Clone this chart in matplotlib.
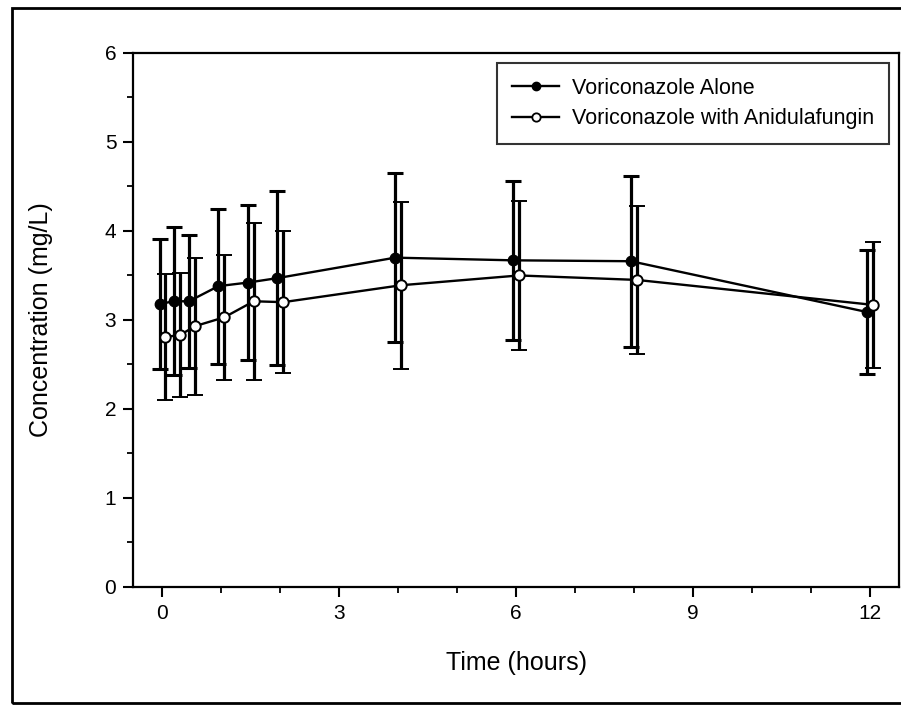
import numpy as np
import matplotlib.pyplot as plt
from matplotlib.patches import Rectangle
from matplotlib.lines import Line2D
from matplotlib.ticker import MultipleLocator

plt.rcParams['font.family'] = ['Liberation Sans', 'DejaVu Sans']

# sampling times (hours)
tiempo = [0, 0.25, 0.5, 1, 1.5, 2, 4, 6, 8, 12]

# voriconazole alone: mean and SD (mg/L)
solo_media = [3.18, 3.21, 3.21, 3.38, 3.42, 3.47, 3.70, 3.67, 3.66, 3.09]
solo_sd = [0.73, 0.83, 0.75, 0.87, 0.87, 0.98, 0.95, 0.89, 0.96, 0.70]

# voriconazole with anidulafungin: mean and SD (mg/L)
combi_media = [2.81, 2.83, 2.93, 3.03, 3.21, 3.20, 3.39, 3.50, 3.45, 3.17]
combi_sd = [0.71, 0.70, 0.77, 0.70, 0.88, 0.80, 0.94, 0.84, 0.83, 0.71]

etiquetas = ['Voriconazole Alone', 'Voriconazole with Anidulafungin']

# small horizontal shift so the two series do not hide each other
desplaz = 0.05


def show():
    fig = plt.figure(figsize=(9.01, 7.06), dpi=100)
    ax = fig.add_axes([0.1476, 0.1686, 0.8502, 0.7564])

    t = np.array(tiempo)
    ax.errorbar(t - desplaz, solo_media, yerr=solo_sd, color='black',
                marker='o', markersize=7.5, markerfacecolor='black',
                markeredgecolor='black', lw=1.7, elinewidth=2.3,
                capsize=6, capthick=2.2, zorder=3)
    ax.errorbar(t + desplaz, combi_media, yerr=combi_sd, color='black',
                marker='o', markersize=7.5, markerfacecolor='white',
                markeredgecolor='black', markeredgewidth=1.4, lw=1.7,
                elinewidth=2.3, capsize=6, capthick=2.2, zorder=3)

    ax.set_xlim(-0.5, 12.5)
    ax.set_ylim(0, 6)
    ax.xaxis.set_major_locator(MultipleLocator(3))
    ax.xaxis.set_minor_locator(MultipleLocator(1))
    ax.yaxis.set_major_locator(MultipleLocator(1))
    ax.yaxis.set_minor_locator(MultipleLocator(0.5))
    ax.tick_params(which='major', direction='out', length=7, width=1.5,
                   labelsize=15, pad=5)
    ax.tick_params(which='minor', direction='out', length=4.5, width=1.3)
    for s in ax.spines.values():
        s.set_linewidth(1.6)

    ax.set_xlabel('Time (hours)', fontsize=18)
    ax.set_ylabel('Concentration (mg/L)', fontsize=18)
    ax.xaxis.set_label_coords(0.5, -0.12)
    ax.yaxis.set_label_coords(-0.104, 0.5)

    # legend shows only line + marker, no error bars
    manijas = [
        Line2D([], [], color='black', lw=1.7, marker='o', markersize=6,
               markerfacecolor='black'),
        Line2D([], [], color='black', lw=1.7, marker='o', markersize=6,
               markerfacecolor='white', markeredgewidth=1.3),
    ]
    leg = ax.legend(manijas, etiquetas, loc='upper right', fontsize=15.5,
                    frameon=True, fancybox=False, edgecolor='black',
                    handlelength=2.2, handletextpad=0.6,
                    borderaxespad=0.45, borderpad=0.7, labelspacing=0.45)
    leg.get_frame().set_linewidth(1.5)

    # frame around the whole figure
    fig.patches.append(Rectangle((12 / 901, 3 / 706), 0.999, 695 / 706,
                                 transform=fig.transFigure, fill=False,
                                 edgecolor='black', lw=2.0, clip_on=False))

    fig.savefig('out.png', dpi=100)


if __name__ == '__main__':
    show()
